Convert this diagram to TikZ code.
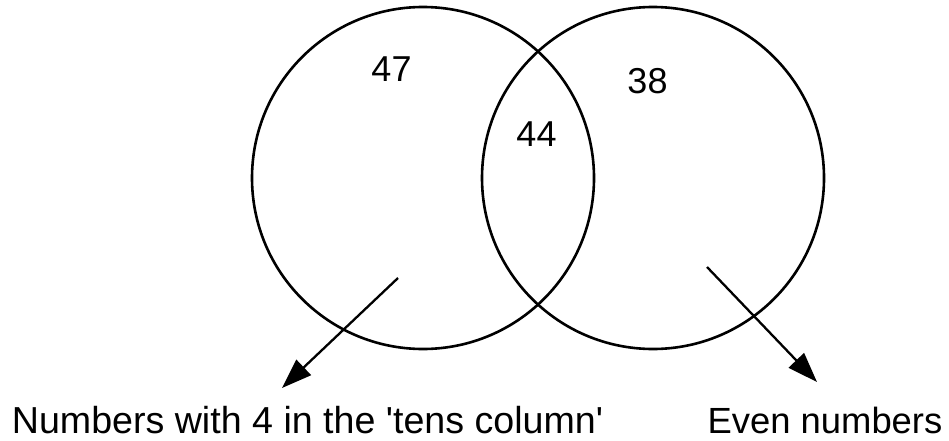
\documentclass[tikz,border=0pt]{standalone}
\usepackage{fontspec}
\setmainfont{Liberation Sans}
\usetikzlibrary{arrows.meta}
\begin{document}
\begin{tikzpicture}[x=1pt,y=-1pt,
  setcircle/.style={circle, draw=black, line width=2.6pt, minimum size=342pt, inner sep=0pt},
  numtext/.style={anchor=base, inner sep=0pt, font=\fontsize{36}{40}\selectfont},
  labeltext/.style={anchor=base, inner sep=0pt},
  pointer/.style={line width=2.3pt, -{Triangle[length=30pt,width=21pt]}}]
\useasboundingbox (0,0) rectangle (949,441);
\node[setcircle] (L) at (423,178) {};
\node[setcircle] (R) at (653,178) {};
\node[numtext] (n47) at (391.5,82) {47};
\node[numtext] (n44) at (536.5,146) {44};
\node[numtext] (n38) at (647.5,94) {38};
\node[labeltext, font=\fontsize{37.6}{42}\selectfont] (labL) at (307.5,433) {Numbers with 4 in the \textquotesingle tens column\textquotesingle};
\node[labeltext, font=\fontsize{36.4}{40}\selectfont] (labR) at (825,433) {Even numbers};
\coordinate (sL) at (398,278);
\coordinate (tL) at (282,388);
\coordinate (sR) at (707,267);
\coordinate (tR) at (817,382);
\draw[pointer] (sL) -- (tL);
\draw[pointer] (sR) -- (tR);
\end{tikzpicture}
\end{document}
